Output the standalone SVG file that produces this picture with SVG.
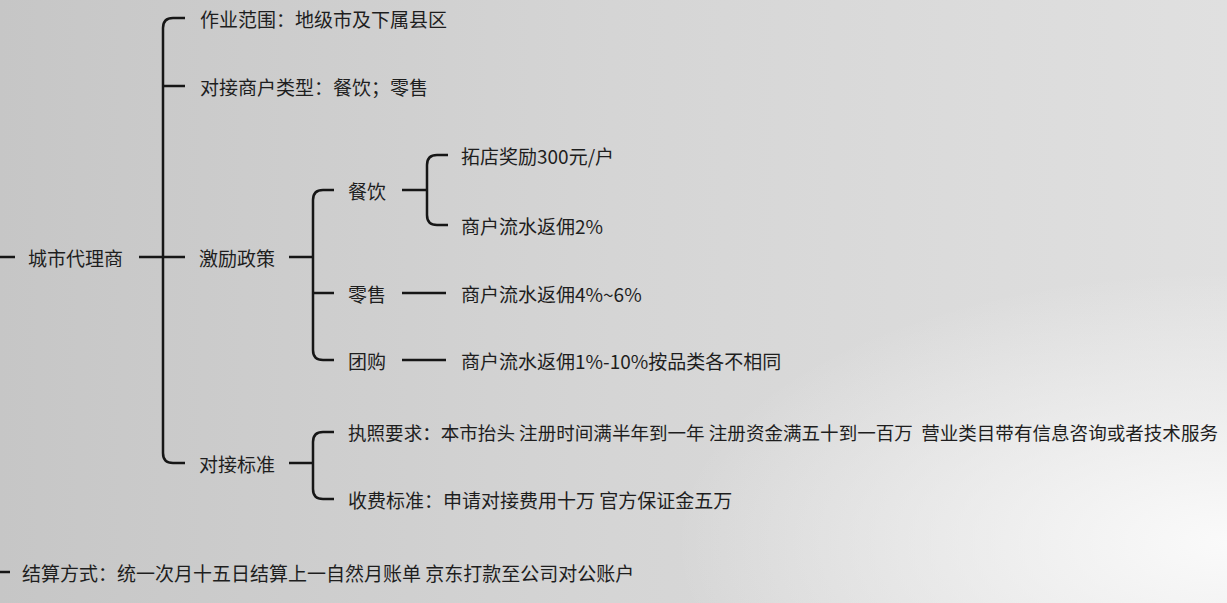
<svg xmlns="http://www.w3.org/2000/svg" width="1227" height="603" viewBox="0 0 1227 603">
<defs>
<linearGradient id="bg" x1="0" y1="0" x2="1" y2="0">
<stop offset="0" stop-color="#c6c6c6"/>
<stop offset="0.5" stop-color="#d5d5d5"/>
<stop offset="1" stop-color="#e0e0e0"/>
</linearGradient>
<radialGradient id="hl" cx="1" cy="0.9" r="0.45">
<stop offset="0" stop-color="#fafafa" stop-opacity="1"/>
<stop offset="1" stop-color="#fafafa" stop-opacity="0"/>
</radialGradient>
<style>
.t{font-family:"Noto Sans CJK SC","Liberation Sans",sans-serif;font-size:19px;fill:#1e1e1e;dominant-baseline:central}
.c{fill:none;stroke:#161616;stroke-width:2.5}
</style>
</defs>
<rect width="1227" height="603" fill="url(#bg)"/>
<rect width="1227" height="603" fill="url(#hl)"/>
<g id="connectors">
<path class="c" d="M0,257 H15"/>
<path class="c" d="M0,572 H10"/>
<path class="c" d="M185,18 H173 Q163,18 163,28 V453 Q163,463 173,463 H185"/>
<path class="c" d="M163,86 H185"/>
<path class="c" d="M139,257 H185"/>
<path class="c" d="M289,257 H313"/>
<path class="c" d="M334,190 H323 Q313,190 313,200 V350 Q313,360 323,360 H334"/>
<path class="c" d="M313,293 H334"/>
<path class="c" d="M402,190 H427"/>
<path class="c" d="M448,155 H437 Q427,155 427,165 V215 Q427,225 437,225 H448"/>
<path class="c" d="M402,293 H446"/>
<path class="c" d="M402,360 H446"/>
<path class="c" d="M289,463 H313"/>
<path class="c" d="M334,432 H323 Q313,432 313,442 V489 Q313,499 323,499 H334"/>
</g>
<g id="root"><text class="t" x="28" y="257">城市代理商</text></g>
<g id="scope"><text class="t" x="200" y="18">作业范围：地级市及下属县区</text></g>
<g id="merchant-type"><text class="t" x="200" y="86">对接商户类型：餐饮；零售</text></g>
<g id="incentive"><text class="t" x="199" y="257">激励政策</text></g>
<g id="catering"><text class="t" x="348" y="190">餐饮</text></g>
<g id="catering-1"><text class="t" x="461" y="155">拓店奖励300元/户</text></g>
<g id="catering-2"><text class="t" x="461" y="225">商户流水返佣2%</text></g>
<g id="retail"><text class="t" x="348" y="293">零售</text></g>
<g id="retail-1"><text class="t" x="461" y="293">商户流水返佣4%~6%</text></g>
<g id="groupbuy"><text class="t" x="348" y="360">团购</text></g>
<g id="groupbuy-1"><text class="t" x="461" y="360">商户流水返佣1%-10%按品类各不相同</text></g>
<g id="standard"><text class="t" x="199" y="463">对接标准</text></g>
<g id="license"><text class="t" x="348" y="432" style="font-size:18.5px" textLength="870" lengthAdjust="spacingAndGlyphs" xml:space="preserve">执照要求：本市抬头 注册时间满半年到一年 注册资金满五十到一百万  营业类目带有信息咨询或者技术服务</text></g>
<g id="fee"><text class="t" x="348" y="499">收费标准：申请对接费用十万 官方保证金五万</text></g>
<g id="settlement"><text class="t" x="22" y="572">结算方式：统一次月十五日结算上一自然月账单 京东打款至公司对公账户</text></g>
</svg>
